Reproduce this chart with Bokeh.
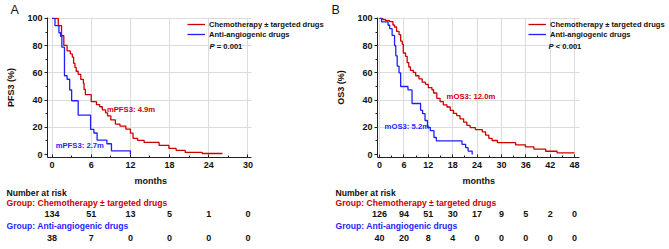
from bokeh.plotting import figure
from bokeh.models import (Range1d, FixedTicker, Legend, LegendItem, Label, Title,
                          ColumnDataSource)
from bokeh.layouts import row, column
from bokeh.embed import file_html
from bokeh.resources import INLINE
from bokeh.core.properties import value

RED = "#cc0000"
BLUE = "#1f1fff"
FONT = "Liberation Sans"
INK = "#111111"
GRID = "#dcdcdc"

# ---------------- data ----------------
# Panel A: PFS3
pfs_chemo_t = [0, 0.95, 1.45, 1.8, 2.3, 2.8, 3.1, 3.3, 3.5, 3.7, 4.0, 4.4, 4.8, 4.9,
               5.1, 6.0, 6.8, 7.3, 7.7, 8.2, 8.5, 9.0, 9.7, 10.4, 11.3, 12.0, 12.4,
               13.1, 14.1, 16.4, 17.9, 19.0, 20.4, 23.0, 26.1]
pfs_chemo_s = [100, 94.8, 87.3, 80.2, 76.1, 73.9, 71.6, 67.0, 64.0, 61.2, 58.9, 55.2,
               52.2, 47.8, 44.0, 38.8, 36.6, 35.1, 32.8, 30.6, 28.4, 25.4, 22.4, 20.9,
               18.7, 15.7, 11.9, 10.4, 8.9, 6.7, 4.5, 3.0, 1.5, 0.75, 0.75]
pfs_anti_t = [0, 0.45, 1.05, 1.3, 1.5, 1.9, 2.3, 2.7, 3.0, 4.0, 5.9, 6.4, 6.9, 8.4,
              9.1, 12.0]
pfs_anti_s = [100, 94.7, 89.5, 86.8, 78.9, 57.9, 55.3, 47.4, 39.5, 28.9, 18.4, 15.8,
              10.5, 7.9, 2.6, 0]
pfs_ticks = [0, 6, 12, 18, 24, 30]
pfs_risk_chemo = [134, 51, 13, 5, 1, 0]
pfs_risk_anti = [38, 7, 0, 0, 0, 0]

# Panel B: OS3
os_chemo_t = [0, 0.8, 1.5, 2.5, 3.3, 3.7, 4.2, 4.8, 5.2, 5.6, 5.85, 6.4, 6.8, 7.2,
              7.6, 8.3, 8.9, 9.7, 10.5, 11.3, 12.0, 12.9, 13.3, 14.1, 14.9, 15.7,
              16.6, 17.4, 18.2, 19.0, 19.8, 20.7, 21.5, 22.3, 23.6, 25.3, 26.1, 26.9,
              27.7, 29.0, 33.5, 35.9, 38.0, 40.9, 43.7, 48.0]
os_chemo_s = [100, 99.2, 98.4, 97.6, 95.2, 93.7, 90.5, 88.1, 83.3, 81.0, 74.6, 72.2,
              67.5, 64.3, 61.9, 60.3, 57.9, 55.6, 53.2, 51.6, 49.2, 47.6, 45.2, 41.3,
              38.9, 36.5, 34.9, 32.5, 30.2, 28.6, 26.2, 23.8, 21.4, 19.8, 18.3, 16.7,
              14.3, 11.9, 10.3, 8.7, 7.1, 5.6, 4.0, 2.4, 1.2, 1.2]
os_anti_t = [0, 0.5, 2.1, 2.5, 3.1, 3.7, 4.0, 4.35, 4.8, 5.2, 7.0, 8.0, 10.1, 10.6,
             11.2, 11.8, 12.5, 13.4, 14.0, 20.3, 21.2, 21.8, 22.8]
os_anti_s = [100, 97.5, 95, 92.5, 87.5, 80, 72.5, 65, 60, 50, 47.5, 37.5, 32.5, 30,
             25, 20, 17.5, 12.5, 10, 7.5, 5, 2.5, 0]
os_ticks = [0, 6, 12, 18, 24, 30, 36, 42, 48]
os_risk_chemo = [126, 94, 51, 30, 17, 9, 5, 2, 0]
os_risk_anti = [40, 20, 8, 4, 0, 0, 0, 0, 0]

y_ticks = [0, 20, 40, 60, 80, 100]
y_minor = [10, 30, 50, 70, 90]

group_chemo = "Chemotherapy \u00b1 targeted drugs"
group_anti = "Anti-angiogenic drugs"
x_title = "months"

KM_H = 188
RISK_H = 61
FRAME_TOP = 15
FRAME_H = 142
Y_LO, Y_HI = -2.2, 100.7
SMALL = "7.6px"


def panel(letter, ylabel, ct, cs, at, as_, ticks, risk_c, risk_a, ptext,
          med_c, med_a, x_start, x_axis_end, width, border_left, axis_w, leg_x,
          txt_x, letter_off, table_x, months_off):
    ppm = axis_w / (x_axis_end - x_start)          # pixels per month
    frame_w = width - border_left                   # frame runs to the panel edge
    x_end = x_start + frame_w / ppm
    p = figure(width=width, height=KM_H,
               x_range=Range1d(x_start, x_end), y_range=Range1d(Y_LO, Y_HI),
               output_backend="svg", toolbar_location=None,
               min_border_left=border_left, min_border_right=0,
               min_border_top=FRAME_TOP, min_border_bottom=KM_H - FRAME_TOP - FRAME_H,
               frame_align=False)
    p.outline_line_color = None
    p.title.text = letter
    p.title.align = "left"
    p.title.offset = letter_off
    p.title.standoff = 1
    p.title.text_font = FONT
    p.title.text_font_style = "normal"
    p.title.text_font_size = "12.5px"
    p.title.text_color = INK

    minor_x = [t + 3 for t in ticks[:-1]]
    p.xaxis.ticker = FixedTicker(ticks=ticks, minor_ticks=minor_x)
    p.xaxis.bounds = (x_start, x_axis_end)
    p.yaxis.ticker = FixedTicker(ticks=y_ticks, minor_ticks=y_minor)
    p.xgrid.ticker = FixedTicker(ticks=ticks)
    p.grid.grid_line_color = GRID
    p.grid.grid_line_width = 1
    ygrid = p.ygrid[0]
    if "cross_bounds" in ygrid.properties():
        ygrid.ticker = FixedTicker(ticks=y_ticks[1:])
        ygrid.cross_bounds = (x_start, x_axis_end)
        p.xgrid[0].cross_bounds = (Y_LO, Y_HI)
    else:
        ygrid.visible = False
        gt = y_ticks[1:]
        p.segment(x0=[x_start] * len(gt), y0=gt, x1=[x_axis_end] * len(gt), y1=gt,
                  line_color=GRID, line_width=1, level="underlay")

    for ax in (p.xaxis, p.yaxis):
        ax.axis_line_color = "#222222"
        ax.major_tick_line_color = "#222222"
        ax.minor_tick_line_color = "#222222"
        ax.major_label_text_font = FONT
        ax.major_label_text_font_style = "bold"
        ax.major_label_text_font_size = "9px"
        ax.major_label_text_color = INK
        ax.axis_label_text_font = FONT
        ax.axis_label_text_font_style = "bold"
        ax.axis_label_text_font_size = "9px"
        ax.axis_label_text_color = INK
    p.xaxis.major_tick_in = 3
    p.xaxis.major_tick_out = 0
    p.xaxis.minor_tick_in = 2
    p.xaxis.minor_tick_out = 0
    p.xaxis.major_label_standoff = 4
    p.xaxis.axis_label = None
    p.yaxis.major_tick_in = 0
    p.yaxis.major_tick_out = 3
    p.yaxis.minor_tick_in = 0
    p.yaxis.minor_tick_out = 2
    p.yaxis.major_label_standoff = 2
    p.yaxis.axis_label = ylabel
    p.yaxis.axis_label_standoff = 8

    # x-axis title, centred under the axis line (not under the wider frame)
    p.add_layout(Title(text=x_title, align="left", offset=months_off, standoff=6,
                       text_font=FONT, text_font_style="bold", text_font_size="9px",
                       text_color=INK), "below")

    rc = p.step(ct, cs, mode="after", line_color=RED, line_width=1.3)
    ra = p.step(at, as_, mode="after", line_color=BLUE, line_width=1.3)

    leg = Legend(items=[LegendItem(label=group_chemo, renderers=[rc]),
                        LegendItem(label=group_anti, renderers=[ra])],
                 location=(leg_x, FRAME_H - 4 - 20))
    leg.label_text_font = FONT
    leg.label_text_font_style = "bold"
    leg.label_text_font_size = SMALL
    leg.label_text_color = INK
    leg.label_height = 10
    leg.glyph_height = 10
    leg.glyph_width = 18
    leg.label_standoff = 4
    leg.spacing = 0
    leg.padding = 0
    leg.margin = 0
    leg.border_line_color = None
    leg.background_fill_alpha = 0
    p.add_layout(leg)

    p_label_y = FRAME_H - 31
    p.add_layout(Label(x=txt_x, y=p_label_y, x_units="screen", y_units="screen",
                       text="P", text_font=FONT, text_font_style="bold italic",
                       text_font_size=SMALL, text_baseline="middle",
                       text_color=INK))
    p.add_layout(Label(x=txt_x + 7.3, y=p_label_y, x_units="screen", y_units="screen",
                       text=ptext, text_font=FONT, text_font_style="bold",
                       text_font_size=SMALL, text_baseline="middle",
                       text_color=INK))
    # median annotations
    for (mx, my, mt, col) in (med_c + (RED,), med_a + (BLUE,)):
        p.add_layout(Label(x=mx, y=my, text=mt, text_font=FONT,
                           text_font_style="bold", text_font_size="7.7px",
                           text_baseline="middle", text_color=col))

    # ---- number at risk table ----
    rs = x_start - border_left / ppm
    re_ = rs + width / ppm
    r = figure(width=width, height=RISK_H, x_range=Range1d(rs, re_),
               y_range=Range1d(RISK_H, 0), output_backend="svg",
               toolbar_location=None, x_axis_location=None, y_axis_location=None,
               min_border=0, frame_align=False)
    r.outline_line_color = None
    r.grid.visible = False
    rows = {"nar": 4.5, "g1": 14.5, "n1": 25.5, "g2": 37, "n2": 49}
    src_c = ColumnDataSource(dict(x=ticks, y=[rows["n1"]] * len(ticks),
                                  t=[str(v) for v in risk_c]))
    src_a = ColumnDataSource(dict(x=ticks, y=[rows["n2"]] * len(ticks),
                                  t=[str(v) for v in risk_a]))
    for src in (src_c, src_a):
        r.text(x="x", y="y", text="t", source=src, text_align="center",
               text_baseline="middle", text_font=value(FONT),
               text_font_style="bold", text_font_size="9px", text_color=INK)
    for key, txt, col in (("nar", "Number at risk", INK),
                          ("g1", "Group: " + group_chemo, RED),
                          ("g2", "Group: " + group_anti, BLUE)):
        r.add_layout(Label(x=table_x, y=rows[key], x_units="screen", y_units="data",
                           text=txt, text_font=FONT, text_font_style="bold",
                           text_font_size="8.6px", text_baseline="middle",
                           text_color=col))
    return column(p, r, spacing=0)


pa = panel("A", "PFS3 (%)", pfs_chemo_t, pfs_chemo_s, pfs_anti_t, pfs_anti_s,
           pfs_ticks, pfs_risk_chemo, pfs_risk_anti, "= 0.001",
           (8.4, 33.0, "mPFS3: 4.9m"), (0.55, 6.3, "mPFS3: 2.7m"),
           -0.7, 30.55, 330, 47, 204, 140, 162, -37, 6, 87)
pb = panel("B", "OS3 (%)", os_chemo_t, os_chemo_s, os_anti_t, os_anti_s,
           os_ticks, os_risk_chemo, os_risk_anti, "< 0.001",
           (16.5, 42.8, "mOS3: 12.0m"), (1.25, 20.5, "mOS3: 5.2m"),
           -0.5, 49.22, 339, 47, 202, 151, 171, -46, 5, 85)

layout = row(pa, pb, spacing=0)
open("out.html", "w").write(file_html(layout, INLINE))
